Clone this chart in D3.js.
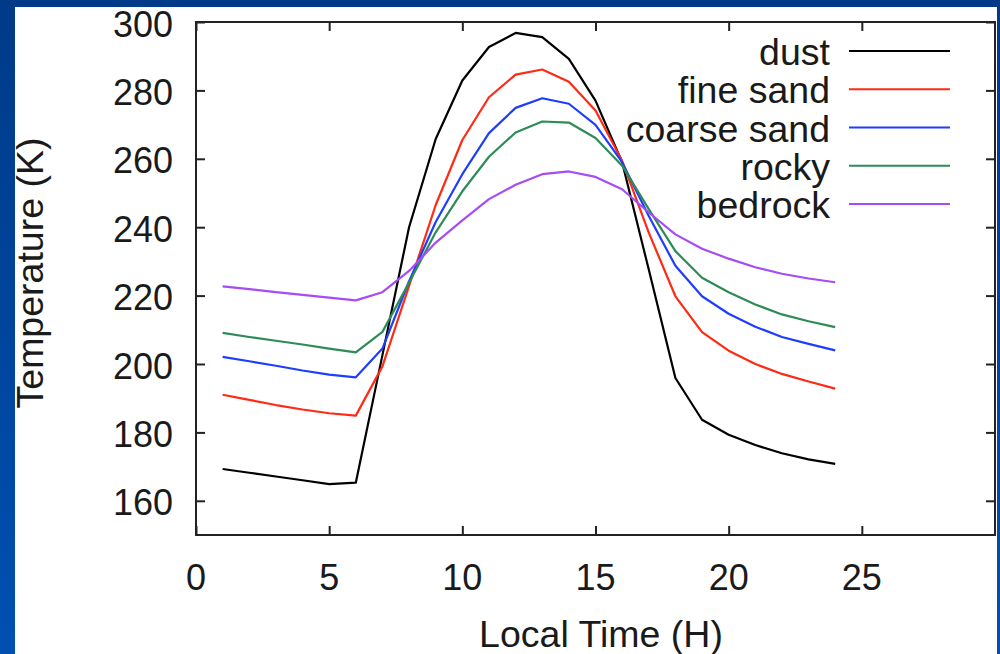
<!DOCTYPE html>
<html>
<head>
<meta charset="utf-8">
<script src="https://cdn.jsdelivr.net/npm/d3@7"></script>
<style>
  html, body {
    margin: 0;
    padding: 0;
    width: 1000px;
    height: 654px;
    overflow: hidden;
  }
  svg {
    display: block;
  }
</style>
</head>
<body>
<div id="chart"></div>
<script>
// hours of the day
const hours = [1, 2, 3, 4, 5, 6, 7, 8, 9, 10, 11, 12, 13, 14, 15, 16, 17, 18, 19, 20, 21, 22, 23, 24];

// surface temperature (K) per surface type
const dust = [169.3, 168.2, 167.1, 166.0, 164.9, 165.3, 202.6, 240.0, 265.8, 282.9, 292.7, 296.8,
  295.6, 289.2, 277.0, 259.0, 227.6, 195.9, 183.7, 179.3, 176.3, 173.9, 172.1, 170.8];
const fineSand = [191.0, 189.5, 188.0, 186.7, 185.6, 184.9, 199.3, 222.8, 246.5, 265.5, 278.0, 284.6,
  286.1, 282.5, 274.1, 259.4, 238.4, 219.8, 209.3, 203.9, 200.0, 197.1, 194.9, 192.8];
const coarseSand = [202.1, 200.8, 199.5, 198.1, 196.9, 196.1, 204.5, 224.2, 241.5, 255.5, 267.5, 274.9,
  277.7, 276.1, 269.9, 259.0, 243.3, 228.7, 219.8, 214.7, 210.9, 207.9, 205.9, 204.0];
const rocky = [209.1, 207.9, 206.8, 205.7, 204.5, 203.4, 209.4, 223.8, 238.5, 250.5, 260.6, 267.7,
  270.9, 270.6, 266.1, 258.0, 245.3, 233.0, 225.2, 221.0, 217.4, 214.5, 212.5, 210.8];
const bedrock = [222.7, 221.9, 221.0, 220.2, 219.4, 218.6, 221.0, 227.2, 235.5, 242.0, 248.2, 252.4,
  255.5, 256.3, 254.7, 251.1, 244.3, 237.9, 233.7, 230.8, 228.3, 226.4, 225.0, 223.9];

const seriesNames = ["dust", "fine sand", "coarse sand", "rocky", "bedrock"];
const seriesColors = ["#000000", "#ff2a14", "#1f3dff", "#2e8b57", "#a64cf5"];

const xTicks = [0, 5, 10, 15, 20, 25];
const yTicks = [160, 180, 200, 220, 240, 260, 280, 300];

const allSeries = [dust, fineSand, coarseSand, rocky, bedrock];

function drawChart() {
  var width = 1000;
  var height = 654;
  var left = 196, right = 995, top = 22, bottom = 535;

  var svg = d3.select("div#chart")
    .append("svg")
    .attr("width", width)
    .attr("height", height)
    .style("font-family", "'Liberation Sans', Arial, sans-serif");

  // blue slide background + white panel
  const grad = svg.append("defs")
    .append("linearGradient")
    .attr("id", "bg")
    .attr("x1", 0).attr("y1", 0)
    .attr("x2", 0).attr("y2", 1);
  grad.append("stop").attr("offset", "0%").attr("stop-color", "#003a88");
  grad.append("stop").attr("offset", "100%").attr("stop-color", "#0050b2");

  svg.append("rect")
    .attr("width", width)
    .attr("height", height)
    .attr("fill", "url(#bg)");

  svg.append("rect")
    .attr("x", 15)
    .attr("y", 7)
    .attr("width", 982)
    .attr("height", 647)
    .attr("fill", "white");

  const x = d3.scaleLinear()
    .domain([0, 30])
    .range([left, right]);

  const y = d3.scaleLinear()
    .domain([150, 300])
    .range([bottom, top]);

  const tickLen = 9;

  // inward ticks on all four sides
  svg.append("g")
    .attr("transform", `translate(0,${bottom})`)
    .call(d3.axisBottom(x).tickValues(xTicks).tickSize(-tickLen).tickSizeOuter(0).tickFormat(""))
    .call(g => g.select(".domain").remove());
  svg.append("g")
    .attr("transform", `translate(0,${top})`)
    .call(d3.axisTop(x).tickValues(xTicks).tickSize(-tickLen).tickSizeOuter(0).tickFormat(""))
    .call(g => g.select(".domain").remove());
  svg.append("g")
    .attr("transform", `translate(${left},0)`)
    .call(d3.axisLeft(y).tickValues(yTicks).tickSize(-tickLen).tickSizeOuter(0).tickFormat(""))
    .call(g => g.select(".domain").remove());
  svg.append("g")
    .attr("transform", `translate(${right},0)`)
    .call(d3.axisRight(y).tickValues(yTicks).tickSize(-tickLen).tickSizeOuter(0).tickFormat(""))
    .call(g => g.select(".domain").remove());

  svg.selectAll(".tick line")
    .attr("stroke", "#222")
    .attr("stroke-width", 2);

  // tick labels
  svg.append("g")
    .selectAll("text")
    .data(yTicks)
    .join("text")
    .attr("x", left - 23)
    .attr("y", d => y(d) + 14.5)
    .attr("text-anchor", "end")
    .style("font-size", "36px")
    .attr("fill", "#1a1a1a")
    .text(d => d);

  svg.append("g")
    .selectAll("text")
    .data(xTicks)
    .join("text")
    .attr("x", d => x(d))
    .attr("y", bottom + 55)
    .attr("text-anchor", "middle")
    .style("font-size", "36px")
    .attr("fill", "#1a1a1a")
    .text(d => d);

  // axis titles
  svg.append("text")
    .attr("x", 601)
    .attr("y", 647)
    .attr("text-anchor", "middle")
    .style("font-size", "37.5px")
    .attr("fill", "#1a1a1a")
    .text("Local Time (H)");

  svg.append("text")
    .attr("transform", `translate(43,273) rotate(-90)`)
    .attr("text-anchor", "middle")
    .style("font-size", "37.5px")
    .attr("fill", "#1a1a1a")
    .text("Temperature (K)");

  // lines
  const line = d3.line()
    .x((d, i) => x(hours[i]))
    .y(d => y(d));

  svg.append("g")
    .selectAll("path")
    .data(allSeries)
    .join("path")
    .attr("d", d => line(d))
    .attr("fill", "none")
    .attr("stroke", (d, i) => seriesColors[i])
    .attr("stroke-width", 2.2)
    .attr("stroke-linejoin", "round");

  // frame
  svg.append("rect")
    .attr("x", left)
    .attr("y", top)
    .attr("width", right - left)
    .attr("height", bottom - top)
    .attr("fill", "none")
    .attr("stroke", "#222")
    .attr("stroke-width", 2);

  // legend
  const legend = svg.append("g")
    .selectAll("g")
    .data(seriesNames)
    .join("g")
    .attr("transform", (d, i) => `translate(0,${51 + i * 38.25})`);

  legend.append("text")
    .attr("x", 830)
    .attr("y", 14)
    .attr("text-anchor", "end")
    .style("font-size", "37.5px")
    .attr("fill", "#1a1a1a")
    .text(d => d);

  legend.append("line")
    .attr("x1", 849)
    .attr("x2", 950)
    .attr("y1", 0)
    .attr("y2", 0)
    .attr("stroke", (d, i) => seriesColors[i])
    .attr("stroke-width", 2.2);
}

drawChart();
</script>
</body>
</html>
